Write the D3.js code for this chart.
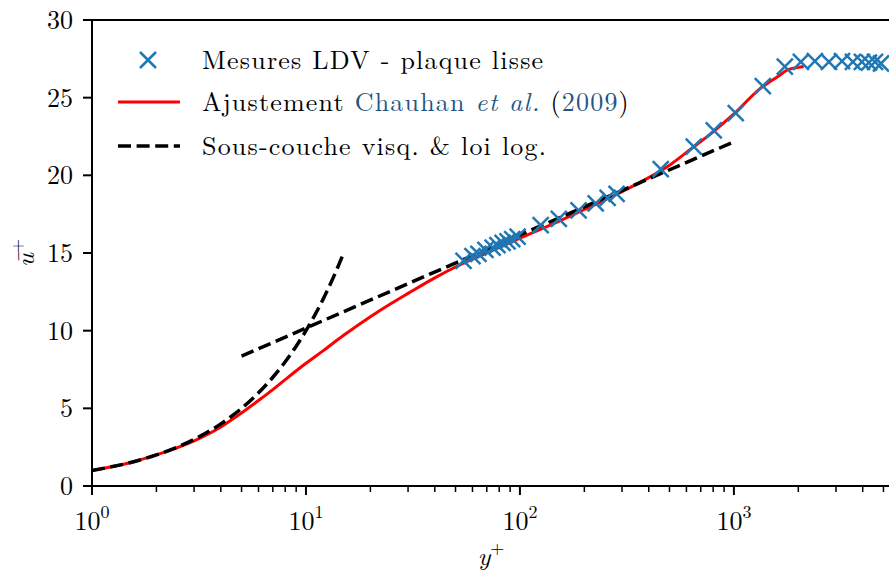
<!DOCTYPE html>
<meta charset="utf-8">
<style>
body { margin: 0; background: #fff; }
svg text { font-family: "Latin Modern Roman", "CMU Serif", "Liberation Serif", serif; fill: #000; }
</style>
<svg id="chart" width="889" height="570"></svg>
<script src="https://d3js.org/d3.v7.min.js"></script>
<script>

// LDV measurements, smooth plate
var ldvYp = [54.5, 60, 64, 69, 74.5, 78.5, 83, 87.5, 92, 97.5,
             125, 152, 188, 226, 257, 283,
             455, 649, 805, 1020, 1365, 1730,
             2056, 2390, 2780, 3200, 3600, 3965, 4275, 4565, 4870];
var ldvUp = [14.5, 14.8, 14.95, 15.2, 15.35, 15.5, 15.65, 15.75, 15.9, 16.05,
             16.8, 17.2, 17.75, 18.2, 18.55, 18.8,
             20.4, 21.85, 22.9, 24.0, 25.75, 27.0,
             27.3, 27.35, 27.3, 27.35, 27.3, 27.3, 27.25, 27.3, 27.2];

// Chauhan et al. (2009) fit
var fitYp = [1, 1.5, 2, 3, 4, 5, 6, 7, 8, 10, 12, 15, 20, 25, 30, 40, 50, 70,
             100, 150, 200, 300, 400, 500, 630, 800, 1000, 1330, 1600, 1790, 2000, 2120];
var fitUp = [1.0, 1.5, 2.0, 2.9, 3.8, 4.7, 5.5, 6.2, 6.85, 7.9, 8.7, 9.7, 10.9, 11.75, 12.4, 13.4, 14.1, 15.0,
             15.95, 17.0, 17.8, 18.95, 19.85, 20.65, 21.7, 22.8, 23.95, 25.6, 26.35, 26.8, 26.95, 27.0];

// viscous sublayer and log law
var viscYp = [1, 1.5, 2, 3, 4, 5, 6, 7, 8, 9, 10, 11, 12, 13, 14, 15];
var viscUp = [1, 1.5, 2, 3, 4, 5, 6, 7, 8, 9, 10, 11, 12, 13, 14, 15];
var logYp = [5, 1000];
var logUp = [8.36, 22.16];

var yTicks = [0, 5, 10, 15, 20, 25, 30];
var xMajor = [1, 10, 100, 1000];

var svg = d3.select("#chart"),
    margin = {top: 20, right: -1, bottom: 84, left: 92},
    width = +svg.attr("width") - margin.left - margin.right,
    height = +svg.attr("height") - margin.top - margin.bottom,
    g = svg.append("g").attr("transform", "translate(" + margin.left + "," + margin.top + ")");

var x = d3.scaleLog().domain([1, 5365]).range([0, width]);
var y = d3.scaleLinear().domain([0, 30]).range([height, 0]);

var xMinor = [];
[1, 10, 100, 1000].forEach(function(d) {
  for (var k = 2; k <= 9; k++) if (d * k <= 5365) xMinor.push(d * k);
});

// lines
var line = d3.line()
    .x(function(d) { return x(d[0]); })
    .y(function(d) { return y(d[1]); })
    .curve(d3.curveMonotoneX);

g.append("path")
    .datum(d3.zip(fitYp, fitUp))
    .attr("d", line)
    .attr("fill", "none")
    .attr("stroke", "#ff0000")
    .attr("stroke-width", 3);

g.append("path")
    .datum(d3.zip(viscYp, viscUp))
    .attr("d", line)
    .attr("fill", "none")
    .attr("stroke", "#000")
    .attr("stroke-width", 3.5)
    .attr("stroke-dasharray", "13,5.6");

g.append("path")
    .datum(d3.zip(logYp, logUp))
    .attr("d", line)
    .attr("fill", "none")
    .attr("stroke", "#000")
    .attr("stroke-width", 3.5)
    .attr("stroke-dasharray", "13,5.6");

// markers
var ms = 8;
function cross(sel) {
  sel.append("path")
      .attr("d", "M" + (-ms) + "," + (-ms) + "L" + ms + "," + ms + "M" + (-ms) + "," + ms + "L" + ms + "," + (-ms))
      .attr("stroke", "#1f77b4")
      .attr("stroke-width", 2.5)
      .attr("fill", "none");
}
g.selectAll(".pt")
  .data(d3.zip(ldvYp, ldvUp))
  .enter().append("g")
    .attr("class", "pt")
    .attr("transform", function(d) { return "translate(" + x(d[0]) + "," + y(d[1]) + ")"; })
    .call(cross);

// frame
g.append("path")
    .attr("d", "M0," + height + "V0H" + width + "V" + height + "H0")
    .attr("fill", "none")
    .attr("stroke", "#000")
    .attr("stroke-width", 2);

// y axis
var yg = g.append("g");
yg.selectAll("line").data(yTicks).enter().append("line")
    .attr("x1", -9).attr("x2", 0)
    .attr("y1", function(d) { return y(d); }).attr("y2", function(d) { return y(d); })
    .attr("stroke", "#000").attr("stroke-width", 2);
yg.selectAll("text").data(yTicks).enter().append("text")
    .attr("x", -19)
    .attr("y", function(d) { return y(d); })
    .attr("dy", "0.34em")
    .attr("text-anchor", "end")
    .style("font-size", "26px")
    .text(function(d) { return d; });

// x axis
var xg = g.append("g").attr("transform", "translate(0," + height + ")");
xg.selectAll(".minor").data(xMinor).enter().append("line")
    .attr("class", "minor")
    .attr("x1", function(d) { return x(d); }).attr("x2", function(d) { return x(d); })
    .attr("y1", 0).attr("y2", 6)
    .attr("stroke", "#000").attr("stroke-width", 1.5);
xg.selectAll(".major").data(xMajor).enter().append("line")
    .attr("class", "major")
    .attr("x1", function(d) { return x(d); }).attr("x2", function(d) { return x(d); })
    .attr("y1", 0).attr("y2", 9)
    .attr("stroke", "#000").attr("stroke-width", 2);
var xl = xg.selectAll(".xl").data(xMajor).enter().append("text")
    .attr("class", "xl")
    .attr("x", function(d) { return x(d); })
    .attr("y", 44)
    .attr("text-anchor", "middle")
    .style("font-size", "26px");
xl.append("tspan").text("10");
xl.append("tspan")
    .attr("dy", -12)
    .style("font-size", "18px")
    .text(function(d) { return Math.round(Math.log10(d)); });

// axis labels
var xt = g.append("text")
    .attr("x", width / 2)
    .attr("y", height + 79)
    .attr("text-anchor", "middle")
    .style("font-size", "26px");
xt.append("tspan").style("font-style", "italic").text("y");
xt.append("tspan").attr("dy", -11).style("font-size", "18px").text("+");

var yt = g.append("text")
    .attr("transform", "translate(-58," + (height / 2) + ") rotate(-90)")
    .attr("text-anchor", "middle")
    .style("font-size", "26px");
yt.append("tspan").style("font-style", "italic").text("ū");
yt.append("tspan").attr("dy", -11).style("font-size", "18px").text("+");

// legend
var lg = g.append("g");
var lx = 26, ly = [40, 82, 126], tx = 110;
var m0 = lg.append("g").attr("transform", "translate(" + (lx + 30) + "," + ly[0] + ")");
cross(m0);
lg.append("line").attr("x1", lx).attr("x2", lx + 62).attr("y1", ly[1]).attr("y2", ly[1])
    .attr("stroke", "#ff0000").attr("stroke-width", 3);
lg.append("line").attr("x1", lx).attr("x2", lx + 62).attr("y1", ly[2]).attr("y2", ly[2])
    .attr("stroke", "#000").attr("stroke-width", 3.5).attr("stroke-dasharray", "13,5.6");

function legendText(yy) {
  return lg.append("text").attr("x", tx).attr("y", yy).attr("dy", "0.34em")
      .style("font-size", "26px").style("letter-spacing", "1.2px");
}
legendText(ly[0]).text("Mesures LDV - plaque lisse");
var t2 = legendText(ly[1]);
t2.append("tspan").text("Ajustement ");
t2.append("tspan").style("fill", "#1f5585").text("Chauhan ");
t2.append("tspan").style("fill", "#1f5585").style("font-style", "italic").text("et al.");
t2.append("tspan").text(" (");
t2.append("tspan").style("fill", "#1f5585").text("2009");
t2.append("tspan").text(")");
legendText(ly[2]).text("Sous-couche visq. & loi log.");

</script>
